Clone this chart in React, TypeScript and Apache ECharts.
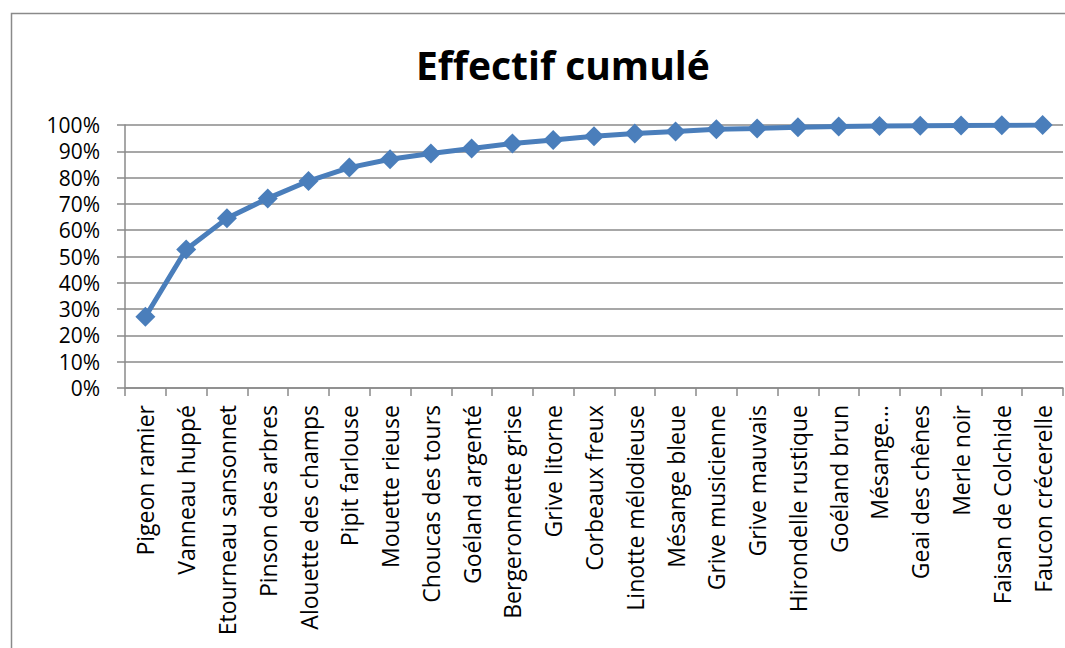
import React, { useEffect, useRef } from "react";
import * as echarts from "echarts";

const categories = [
  "Pigeon ramier",
  "Vanneau huppé",
  "Etourneau sansonnet",
  "Pinson des arbres",
  "Alouette des champs",
  "Pipit farlouse",
  "Mouette rieuse",
  "Choucas des tours",
  "Goéland argenté",
  "Bergeronnette grise",
  "Grive litorne",
  "Corbeaux freux",
  "Linotte mélodieuse",
  "Mésange bleue",
  "Grive musicienne",
  "Grive mauvais",
  "Hirondelle rustique",
  "Goéland brun",
  "Mésange…",
  "Geai des chênes",
  "Merle noir",
  "Faisan de Colchide",
  "Faucon crécerelle",
];

const cumulative = [
  0.271, 0.527, 0.645, 0.721, 0.787, 0.838, 0.87, 0.892, 0.911, 0.93, 0.943,
  0.957, 0.968, 0.975, 0.984, 0.987, 0.991, 0.994, 0.996, 0.997, 0.998, 0.999,
  1.0,
];

const yTicks = [0, 0.1, 0.2, 0.3, 0.4, 0.5, 0.6, 0.7, 0.8, 0.9, 1.0];

const title = "Effectif cumulé";

export default function App() {
  const ref = useRef<HTMLDivElement>(null);
  useEffect(() => {
    if (!ref.current) return;
    const chart = echarts.init(ref.current, null, { renderer: "svg" });
    const font = "'Open Sans', 'Noto Sans', sans-serif";
    chart.setOption({
      animation: false,
      backgroundColor: "#ffffff",
      title: {
        text: title,
        left: 411,
        top: 40,
        textStyle: {
          fontFamily: font,
          fontWeight: "bold",
          fontSize: 39,
          color: "#000000",
        },
      },
      graphic: [
        {
          type: "rect",
          shape: { x: 11.5, y: 13.5, width: 1200, height: 800 },
          style: { fill: "none", stroke: "#8a8a8a", lineWidth: 1.5 },
          silent: true,
        },
      ],
      grid: { left: 125, top: 125, right: 2, bottom: 260 },
      xAxis: {
        type: "category",
        data: categories,
        boundaryGap: true,
        axisLine: { show: true, lineStyle: { color: "#8a8a8a", width: 1.5 } },
        axisTick: {
          show: true,
          length: 8,
          alignWithLabel: false,
          lineStyle: { color: "#8a8a8a", width: 1.5 },
        },
        axisLabel: {
          rotate: 90,
          interval: 0,
          margin: 17,
          fontFamily: font,
          fontSize: 23,
          lineHeight: 24,
          color: "#000000",
        },
      },
      yAxis: {
        type: "value",
        min: 0,
        max: 1,
        interval: 0.1,
        axisLine: { show: true, lineStyle: { color: "#8a8a8a", width: 1.5 } },
        axisTick: { show: true, length: 8, lineStyle: { color: "#8a8a8a", width: 1.5 } },
        splitLine: { show: true, lineStyle: { color: "#8a8a8a", width: 1.5 } },
        axisLabel: {
          margin: 25,
          fontFamily: font,
          fontSize: 21,
          lineHeight: 21,
          color: "#000000",
          formatter: (v: number) => {
            const t = yTicks.find((x) => Math.abs(x - v) < 1e-6);
            return Math.round((t ?? v) * 100) + "%";
          },
        },
      },
      series: [
        {
          type: "line",
          data: cumulative,
          symbol: "diamond",
          symbolSize: 20,
          lineStyle: { color: "#4a7ebb", width: 5 },
          itemStyle: { color: "#4a7ebb" },
        },
      ],
    });
    return () => chart.dispose();
  }, []);
  return (
    <div
      ref={ref}
      style={{ position: "fixed", left: 0, top: 0, width: 1065, height: 648 }}
    />
  );
}
